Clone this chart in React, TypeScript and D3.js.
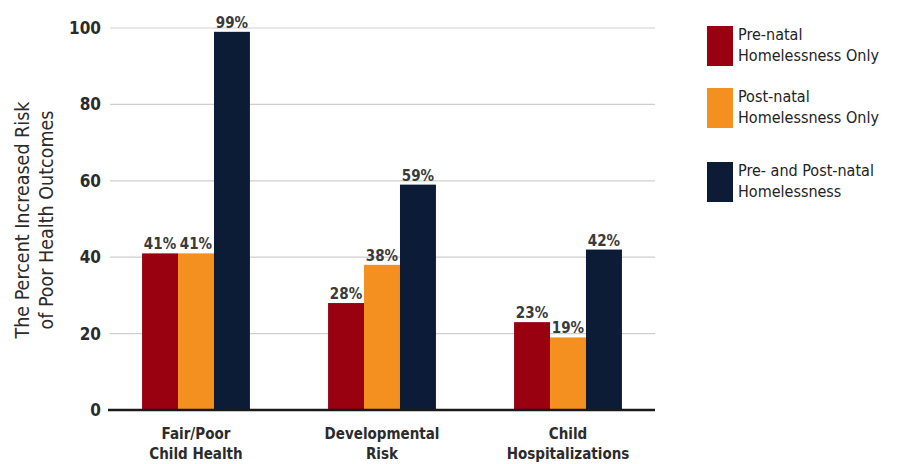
import * as d3 from "d3";

const categories = ["Fair/Poor\nChild Health", "Developmental\nRisk", "Child\nHospitalizations"];
const seriesNames = ["Pre-natal\nHomelessness Only", "Post-natal\nHomelessness Only", "Pre- and Post-natal\nHomelessness"];
const preNatal = [41, 28, 23];
const postNatal = [41, 38, 19];
const both = [99, 59, 42];
const yTicks = [0, 20, 40, 60, 80, 100];
const colors = ["#990010", "#f39020", "#0c1c36"];

const font = "'DejaVu Sans Condensed', 'DejaVu Sans', sans-serif";

export default function App() {
  const width = 904;
  const height = 464;
  const series = [preNatal, postNatal, both];

  const x = d3.scaleBand<string>().domain(categories).range([103, 661]).paddingInner(0.42).paddingOuter(0.21);
  const inner = d3.scaleBand<number>().domain([0, 1, 2]).range([0, x.bandwidth()]);
  const y = d3.scaleLinear().domain([0, 100]).range([410, 28]);

  const legendY = [26, 88, 162];

  return (
    <svg
      width={width}
      height={height}
      style={{ position: "absolute", left: 0, top: 0, background: "#fff" }}
      fontFamily={font}
    >
      {yTicks.map((t) => (
        <g key={t}>
          {t > 0 && <line x1={110} x2={655} y1={y(t)} y2={y(t)} stroke="#cfcfcf" strokeWidth={1.2} />}
          <text x={101} y={y(t) + 6} textAnchor="end" fontSize={17} fontWeight="bold" fill="#2b2b2b">
            {t}
          </text>
        </g>
      ))}
      <text transform="translate(29, 220) rotate(-90)" textAnchor="middle" fontSize={19.5} fill="#2b2b2b">
        <tspan x={0} dy={0}>The Percent Increased Risk</tspan>
        <tspan x={0} dy={24}>of Poor Health Outcomes</tspan>
      </text>
      {categories.map((c, ci) => (
        <g key={c} transform={`translate(${x(c)},0)`}>
          {series.map((s, si) => (
            <g key={si}>
              <rect
                x={inner(si)}
                y={y(s[ci])}
                width={inner.bandwidth()}
                height={y(0) - y(s[ci])}
                fill={colors[si]}
              />
              <text
                x={(inner(si) ?? 0) + inner.bandwidth() / 2}
                y={y(s[ci]) - 4}
                textAnchor="middle"
                fontSize={15}
                fontWeight="bold"
                fill="#3a3a3a"
              >
                {s[ci]}%
              </text>
            </g>
          ))}
          {c.split("\n").map((line, li) => (
            <text
              key={li}
              x={x.bandwidth() / 2}
              y={439 + li * 20}
              textAnchor="middle"
              fontSize={15}
              fontWeight="bold"
              fill="#2b2b2b"
            >
              {line}
            </text>
          ))}
        </g>
      ))}
      <line x1={108} x2={655} y1={y(0)} y2={y(0)} stroke="#1a1a1a" strokeWidth={2.5} />
      {seriesNames.map((name, i) => (
        <g key={name} transform={`translate(707,${legendY[i]})`}>
          <rect x={0} y={0} width={26} height={40} fill={colors[i]} />
          {name.split("\n").map((line, li) => (
            <text key={li} x={31} y={14 + li * 21} fontSize={16} fill="#222">
              {line}
            </text>
          ))}
        </g>
      ))}
    </svg>
  );
}
